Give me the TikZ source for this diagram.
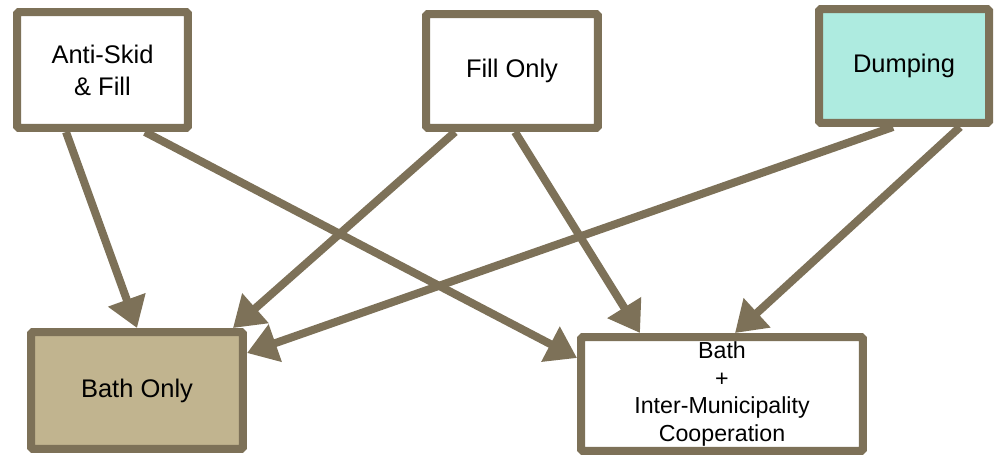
\documentclass[tikz,border=0pt]{standalone}
\usepackage{fontspec}
\setmainfont{Liberation Sans}
\usetikzlibrary{arrows.meta}
\definecolor{edgebrown}{HTML}{7D7158}
\definecolor{bathtan}{HTML}{C1B48F}
\definecolor{dumpcyan}{HTML}{AEEBE0}
\tikzset{
  optbox/.style={draw=edgebrown, line width=0.16cm, fill=white, rounded corners=1pt,
    align=center, inner sep=0pt, font=\fontsize{14.5}{18.2}\selectfont},
  flow/.style={draw=edgebrown, line width=0.16cm, -{Triangle[length=0.6cm,width=0.76cm]}}
}
\begin{document}
\begin{tikzpicture}[x=0.02cm,y=-0.02cm]
  \useasboundingbox (0,0) rectangle (999,456);
  % options on top
  \node[optbox, minimum width=3.42cm, minimum height=2.32cm] (antiskid) at (102.5,70) {Anti-Skid\\\& Fill};
  \node[optbox, minimum width=3.44cm, minimum height=2.28cm] (fillonly) at (512,71) {Fill Only};
  \node[optbox, fill=dumpcyan, minimum width=3.40cm, minimum height=2.28cm] (dumping) at (904,66) {Dumping};
  % outcomes below
  \node[optbox, fill=bathtan, minimum width=4.24cm, minimum height=2.34cm] (bathonly) at (137,390.5) {Bath Only};
  \node[optbox, minimum width=5.64cm, minimum height=2.28cm, font=\fontsize{13.2}{15.9}\selectfont] (bathcoop) at (722,394) {Bath\\+\\Inter-Municipality\\Cooperation};
  % connectors
  \draw[flow] ([xshift=-0.73cm]antiskid.south) -- (bathonly.north);
  \draw[flow] ([xshift=0.85cm]antiskid.south) -- ([yshift=0.72cm]bathcoop.west);
  \draw[flow] ([xshift=-1.14cm]fillonly.south) -- ([xshift=-0.28cm]bathonly.north east);
  \draw[flow] ([xshift=0.06cm]fillonly.south) -- ([xshift=-1.64cm]bathcoop.north);
  \draw[flow] ([xshift=-0.22cm]dumping.south) -- ([yshift=0.75cm]bathonly.east);
  \draw[flow] ([xshift=1.12cm]dumping.south) -- ([xshift=0.26cm]bathcoop.north);
\end{tikzpicture}
\end{document}
